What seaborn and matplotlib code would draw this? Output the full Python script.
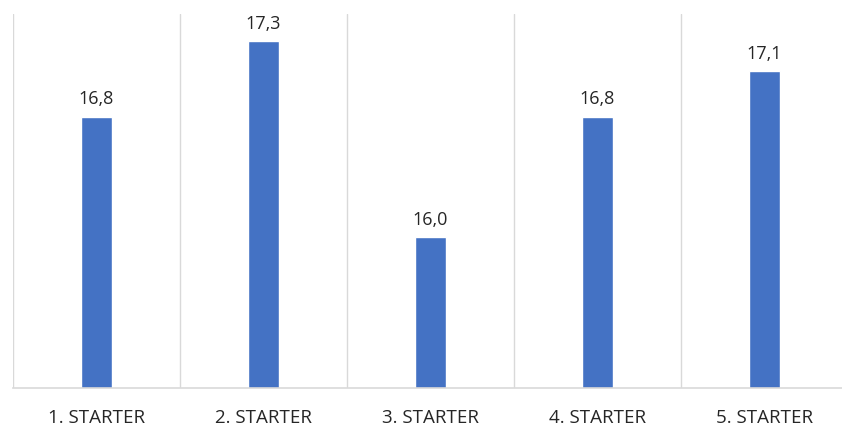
import matplotlib
matplotlib.use('Agg')
import matplotlib.pyplot as plt
import seaborn as sns
import pandas as pd

categories = ["1. STARTER", "2. STARTER", "3. STARTER", "4. STARTER", "5. STARTER"]
values = [16.8, 17.3, 16.0, 16.8, 17.1]

sns.set_theme(style="white")
plt.rcParams['font.family'] = ['Open Sans', 'DejaVu Sans']

data = pd.DataFrame({"cat": categories, "val": values})

fig = plt.figure(figsize=(8.42, 4.26), dpi=100)
ax = fig.add_axes([13 / 842, 38 / 426, 835 / 842, 374 / 426])
sns.barplot(data=data, x="cat", y="val", color="#4472C4", width=0.18,
            saturation=1, ax=ax)

ax.set_ylim(15.0, 17.48)
ax.set_xlim(-0.5, 4.5)
for b in range(len(categories) + 1):
    ax.axvline(b - 0.5, color="#d9d9d9", lw=1, zorder=0)

ax.bar_label(ax.containers[0], labels=[f"{v:.1f}".replace(".", ",") for v in values],
             padding=6, fontsize=13, color="#262626")

ax.set_xlabel("")
ax.set_ylabel("")
ax.set_yticks([])
ax.tick_params(axis="x", length=0, pad=15, labelsize=13.5, labelcolor="#262626")
for s in ["left", "right", "top"]:
    ax.spines[s].set_visible(False)
ax.spines["bottom"].set_color("#d9d9d9")
ax.spines["bottom"].set_linewidth(1.2)

fig.savefig("out.png", dpi=100)
